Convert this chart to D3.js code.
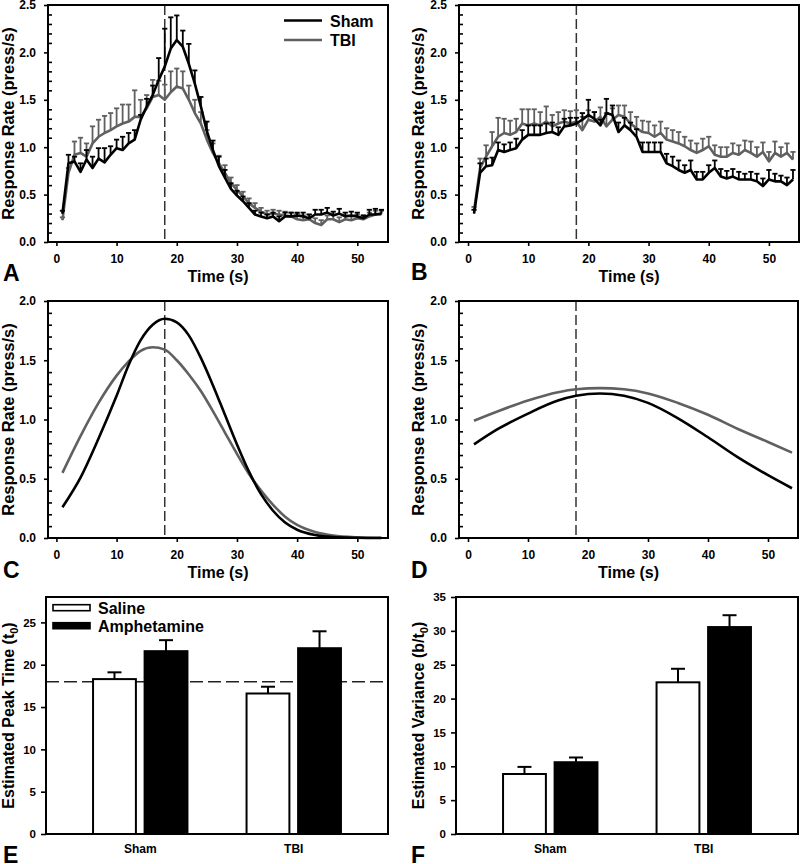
<!DOCTYPE html>
<html><head><meta charset="utf-8">
<script src="https://cdn.jsdelivr.net/npm/d3@7/dist/d3.min.js"></script>
<style>
body{margin:0;background:#fff;}
svg{display:block;}
text{font-family:Arial,"Liberation Sans",sans-serif;font-weight:bold;}
</style></head><body>
<svg id="chart" width="800" height="864"></svg>
<script>
// ---------- DATA ----------
const times = [1,2,3,4,5,6,7,8,9,10,11,12,13,14,15,16,17,18,19,20,21,22,23,24,25,26,27,28,29,30,31,32,33,34,35,36,37,38,39,40,41,42,43,44,45,46,47,48,49,50,51,52,53,54];
const seriesNames = ["Sham","TBI"];

// Panel A (saline)
const shamA = [0.30,0.83,0.85,0.74,0.87,0.78,0.88,0.84,0.92,0.99,0.97,1.04,1.08,1.29,1.43,1.55,1.71,1.85,2.04,2.13,2.06,1.88,1.67,1.43,1.17,0.97,0.80,0.68,0.56,0.49,0.43,0.36,0.29,0.27,0.25,0.27,0.22,0.27,0.27,0.28,0.27,0.25,0.29,0.29,0.31,0.28,0.30,0.27,0.28,0.27,0.25,0.29,0.29,0.30];
const shamAErr = [0.03,0.09,0.05,0.09,0.10,0.12,0.11,0.15,0.09,0.09,0.14,0.11,0.10,0.05,0.08,0.10,0.23,0.40,0.33,0.26,0.17,0.21,0.14,0.10,0.10,0.10,0.10,0.08,0.06,0.05,0.05,0.05,0.04,0.04,0.04,0.04,0.05,0.04,0.04,0.03,0.04,0.04,0.05,0.05,0.05,0.04,0.05,0.04,0.04,0.04,0.03,0.05,0.06,0.04];
const tbiA = [0.23,0.73,0.92,0.94,0.90,1.04,1.11,1.15,1.18,1.22,1.25,1.27,1.32,1.32,1.41,1.53,1.55,1.50,1.58,1.64,1.62,1.50,1.36,1.25,1.08,0.94,0.83,0.73,0.62,0.55,0.48,0.41,0.36,0.32,0.29,0.30,0.29,0.28,0.27,0.24,0.23,0.24,0.20,0.18,0.24,0.24,0.21,0.24,0.23,0.25,0.24,0.27,0.29,0.29];
const tbiAErr = [0.03,0.05,0.14,0.16,0.14,0.18,0.18,0.18,0.18,0.19,0.20,0.18,0.28,0.18,0.14,0.18,0.15,0.16,0.22,0.19,0.18,0.15,0.14,0.12,0.10,0.10,0.08,0.08,0.06,0.05,0.05,0.05,0.05,0.04,0.04,0.04,0.04,0.04,0.04,0.06,0.05,0.05,0.05,0.05,0.04,0.05,0.05,0.04,0.04,0.04,0.04,0.04,0.04,0.04];

// Panel B (amphetamine)
const shamB = [0.30,0.73,0.80,0.81,0.97,0.95,0.97,0.99,1.08,1.13,1.13,1.13,1.15,1.16,1.13,1.22,1.23,1.25,1.29,1.34,1.30,1.23,1.36,1.34,1.16,1.23,1.18,1.11,0.95,0.95,0.95,0.95,0.83,0.80,0.76,0.73,0.76,0.66,0.66,0.73,0.78,0.69,0.67,0.69,0.66,0.66,0.66,0.64,0.59,0.66,0.64,0.64,0.60,0.66];
const shamBErr = [0.04,0.10,0.08,0.08,0.08,0.08,0.08,0.10,0.10,0.10,0.10,0.10,0.10,0.10,0.08,0.08,0.08,0.06,0.07,0.16,0.07,0.06,0.15,0.10,0.10,0.08,0.08,0.08,0.10,0.10,0.10,0.10,0.10,0.10,0.10,0.08,0.10,0.08,0.08,0.08,0.08,0.08,0.08,0.08,0.08,0.06,0.08,0.08,0.08,0.10,0.08,0.06,0.08,0.10];
const tbiB = [0.33,0.78,0.90,1.01,1.11,1.15,1.13,1.16,1.25,1.23,1.25,1.23,1.27,1.22,1.25,1.27,1.25,1.27,1.18,1.29,1.27,1.32,1.22,1.29,1.34,1.32,1.25,1.20,1.16,1.15,1.11,1.15,1.08,1.06,1.04,1.01,0.97,0.94,0.97,1.01,0.92,0.90,0.90,0.94,0.92,0.97,0.94,0.90,0.95,0.85,0.94,0.90,0.94,0.87];
const tbiBErr = [0.04,0.10,0.12,0.15,0.20,0.15,0.15,0.14,0.15,0.17,0.15,0.14,0.16,0.12,0.12,0.12,0.13,0.12,0.14,0.10,0.10,0.10,0.14,0.12,0.10,0.12,0.12,0.12,0.12,0.12,0.12,0.12,0.12,0.12,0.12,0.10,0.10,0.10,0.12,0.10,0.10,0.10,0.10,0.10,0.10,0.10,0.12,0.10,0.10,0.10,0.12,0.10,0.10,0.08];

// Panel C (fitted curves, saline)
const fitTimesC = [1,4,7,10,12,14,16,18,20,22,24,26,28,30,32,34,36,38,40,43,46,50,54];
const shamC = [0.26,0.51,0.84,1.20,1.46,1.67,1.80,1.85,1.82,1.71,1.52,1.29,1.04,0.79,0.56,0.37,0.23,0.13,0.07,0.025,0.008,0.002,0.0];
const tbiC  = [0.55,0.86,1.14,1.37,1.49,1.58,1.61,1.59,1.50,1.38,1.24,1.07,0.89,0.71,0.54,0.40,0.28,0.18,0.11,0.05,0.02,0.006,0.002];

// Panel D (fitted curves, amphetamine)
const fitTimesD = [1,5,10,15,18,22,26,30,35,40,45,50,54];
const shamD = [0.79,0.92,1.05,1.16,1.20,1.22,1.20,1.14,1.01,0.85,0.68,0.53,0.42];
const tbiD  = [0.99,1.07,1.16,1.23,1.255,1.265,1.255,1.22,1.14,1.04,0.92,0.81,0.72];

// Panels E/F (bars)
const groups = ["Sham","TBI"];
const treatments = ["Saline","Amphetamine"];
const peakSaline = [18.3,16.6];
const peakSalineErr = [0.8,0.8];
const peakAmph = [21.6,21.95];
const peakAmphErr = [1.3,2.0];
const varSaline = [8.86,22.4];
const varSalineErr = [1.05,2.0];
const varAmph = [10.6,30.56];
const varAmphErr = [0.7,1.75];

const rateTicks25 = [0,0.5,1.0,1.5,2.0,2.5];
const rateTicks20 = [0,0.5,1.0,1.5,2.0];
const timeTicks = [0,10,20,30,40,50];
const peakTicks = [0,5,10,15,20,25];
const varTicks = [0,5,10,15,20,25,30,35];
const criterion = 18;

// ---------- DRAW ----------
const svg = d3.select("#chart");
const GRAY = "#606060";
const colors = {Sham:"#000", TBI:GRAY};

function styleAxis(sel, fs){
  sel.select(".domain").remove();
  sel.selectAll(".tick line").attr("stroke","#000").attr("stroke-width",1.6);
  sel.selectAll(".tick text").attr("fill","#000").attr("font-size",fs)
     .attr("font-family","Arial, 'Liberation Sans', sans-serif").attr("font-weight","bold");
}

function linePanel(o){
  const x = d3.scaleLinear().domain(o.xDom).range([o.x0,o.x1]);
  const y = d3.scaleLinear().domain(o.yDom).range([o.y1,o.y0]);
  const g = svg.append("g");
  // criterion line
  g.append("line").attr("x1",x(criterion)).attr("x2",x(criterion))
    .attr("y1",o.y0).attr("y2",o.y1).attr("stroke","#333").attr("stroke-width",1.5)
    .attr("stroke-dasharray","10,4");
  // series (TBI first, Sham on top)
  o.series.slice().reverse().forEach(s=>{
    const pts = s.t.map((t,i)=>({t, v:s.v[i], e:s.e?s.e[i]:0}));
    const c = colors[s.name];
    if(s.e){
      const eb = g.append("g").attr("stroke",c).attr("stroke-width",1.8);
      eb.selectAll("line.v").data(pts).join("line").attr("class","v")
        .attr("x1",d=>x(d.t)).attr("x2",d=>x(d.t))
        .attr("y1",d=>y(d.v)).attr("y2",d=>y(d.v+d.e));
      eb.selectAll("line.c").data(pts).join("line").attr("class","c")
        .attr("x1",d=>x(d.t)-2.6).attr("x2",d=>x(d.t)+2.6)
        .attr("y1",d=>y(d.v+d.e)).attr("y2",d=>y(d.v+d.e));
    }
    g.append("path").datum(pts)
      .attr("d", d3.line().x(d=>x(d.t)).y(d=>y(d.v)).curve(s.smooth?d3.curveMonotoneX:d3.curveLinear))
      .attr("fill","none").attr("stroke",c).attr("stroke-width",2.6).attr("stroke-linejoin","round");
  });
  // axes
  g.append("g").attr("transform",`translate(0,${o.y1})`)
    .call(d3.axisBottom(x).tickValues(timeTicks).tickSize(4).tickPadding(8).tickSizeOuter(0))
    .call(s=>styleAxis(s,"12px"));
  g.append("g").attr("transform",`translate(${o.x0},0)`)
    .call(d3.axisLeft(y).tickValues(o.yTicks).tickSize(4).tickPadding(8).tickSizeOuter(0).tickFormat(d3.format(".1f")))
    .call(s=>styleAxis(s,"12px"));
  const minor = d3.range(0, o.yDom[1]+0.001, 0.1).filter(v=>Math.abs(v/0.5-Math.round(v/0.5))>0.01);
  g.append("g").attr("transform",`translate(${o.x0},0)`)
    .call(d3.axisRight(y).tickValues(minor).tickSize(4).tickFormat("").tickSizeOuter(0))
    .call(s=>styleAxis(s,"12px"));
  // frame
  g.append("rect").attr("x",o.x0).attr("y",o.y0).attr("width",o.x1-o.x0).attr("height",o.y1-o.y0)
    .attr("fill","none").attr("stroke","#000").attr("stroke-width",2);
  // titles
  g.append("text").attr("x",(o.x0+o.x1)/2).attr("y",o.y1+40).attr("text-anchor","middle")
    .attr("font-size","16px").text("Time (s)");
  g.append("text").attr("transform",`translate(${o.ylx},${(o.y0+o.y1)/2}) rotate(-90)`)
    .attr("text-anchor","middle").attr("font-size","16.5px").text("Response Rate (press/s)");
  g.append("text").attr("x",o.lx).attr("y",o.ly).attr("font-size","23px").text(o.letter);
  if(o.legend){
    const L = g.append("g");
    seriesNames.forEach((n,i)=>{
      const yy = 20.5 + i*19.5;
      L.append("line").attr("x1",284).attr("x2",322).attr("y1",yy).attr("y2",yy)
        .attr("stroke",colors[n]).attr("stroke-width",2.6);
      L.append("text").attr("x",330).attr("y",yy+6).attr("font-size","16px").text(n);
    });
  }
}

linePanel({x0:48,x1:388,y0:5,y1:242,xDom:[-1.4,55.1],yDom:[0,2.5],yTicks:rateTicks25,
  series:[{name:"Sham",t:times,v:shamA,e:shamAErr},{name:"TBI",t:times,v:tbiA,e:tbiAErr}],
  ylx:14,letter:"A",lx:3,ly:281,legend:true});
linePanel({x0:459,x1:799,y0:5,y1:242,xDom:[-1.5,55.0],yDom:[0,2.5],yTicks:rateTicks25,
  series:[{name:"Sham",t:times,v:shamB,e:shamBErr},{name:"TBI",t:times,v:tbiB,e:tbiBErr}],
  ylx:424,letter:"B",lx:411,ly:280});
linePanel({x0:48,x1:388,y0:301,y1:538,xDom:[-1.4,55.1],yDom:[0,2.0],yTicks:rateTicks20,
  series:[{name:"Sham",t:fitTimesC,v:shamC,smooth:true},{name:"TBI",t:fitTimesC,v:tbiC,smooth:true}],
  ylx:14,letter:"C",lx:3,ly:578});
linePanel({x0:459,x1:798,y0:301,y1:538,xDom:[-1.5,55.0],yDom:[0,2.0],yTicks:rateTicks20,
  series:[{name:"Sham",t:fitTimesD,v:shamD,smooth:true},{name:"TBI",t:fitTimesD,v:tbiD,smooth:true}],
  ylx:424,letter:"D",lx:411,ly:578});

function barPanel(o){
  const x = d3.scaleBand().domain(groups).range([o.x0,o.x1]).paddingInner(0.372).paddingOuter(0.3);
  const xi = d3.scaleBand().domain(treatments).range([0,x.bandwidth()]).paddingInner(0.13);
  const y = d3.scaleLinear().domain([0,o.yMax]).range([o.y1,o.y0]);
  const g = svg.append("g");
  const data = [];
  groups.forEach((grp,gi)=>{
    data.push({grp,tr:"Saline",v:o.sal[gi],e:o.salE[gi]});
    data.push({grp,tr:"Amphetamine",v:o.amp[gi],e:o.ampE[gi]});
  });
  if(o.refLine){
    g.append("line").attr("x1",o.x0).attr("x2",o.x1).attr("y1",y(criterion)).attr("y2",y(criterion))
      .attr("stroke","#222").attr("stroke-width",1.5).attr("stroke-dasharray","13,5");
  }
  const cx = d=>x(d.grp)+xi(d.tr)+xi.bandwidth()/2;
  g.selectAll("line.eb").data(data).join("line").attr("class","eb")
    .attr("x1",cx).attr("x2",cx).attr("y1",d=>y(d.v)).attr("y2",d=>y(d.v+d.e))
    .attr("stroke","#000").attr("stroke-width",2);
  g.selectAll("line.cap").data(data).join("line").attr("class","cap")
    .attr("x1",d=>cx(d)-7).attr("x2",d=>cx(d)+7).attr("y1",d=>y(d.v+d.e)).attr("y2",d=>y(d.v+d.e))
    .attr("stroke","#000").attr("stroke-width",2);
  g.selectAll("rect.bar").data(data).join("rect").attr("class","bar")
    .attr("x",d=>x(d.grp)+xi(d.tr)+1).attr("width",xi.bandwidth()-2)
    .attr("y",d=>y(d.v)).attr("height",d=>y(0)-y(d.v))
    .attr("fill",d=>d.tr==="Saline"?"#fff":"#000").attr("stroke","#000").attr("stroke-width",2);
  g.append("g").attr("transform",`translate(${o.x0},0)`)
    .call(d3.axisLeft(y).tickValues(o.ticks).tickSize(5).tickPadding(5).tickSizeOuter(0))
    .call(s=>styleAxis(s,"11.5px"));
  g.append("g").attr("transform",`translate(0,${o.y1})`)
    .call(d3.axisBottom(x).tickSize(0).tickPadding(10))
    .call(s=>styleAxis(s,"12px"));
  g.append("rect").attr("x",o.x0).attr("y",o.y0).attr("width",o.x1-o.x0).attr("height",o.y1-o.y0)
    .attr("fill","none").attr("stroke","#000").attr("stroke-width",2);
  const t = g.append("text").attr("transform",`translate(${o.ylx},${(o.y0+o.y1)/2}) rotate(-90)`)
    .attr("text-anchor","middle").attr("font-size","16px");
  t.append("tspan").text(o.ylab);
  t.append("tspan").attr("font-size","11px").attr("dy","4").text("0");
  t.append("tspan").attr("dy","-4").text(")");
  g.append("text").attr("x",o.lx).attr("y",o.ly).attr("font-size","23px").text(o.letter);
  if(o.legend){
    treatments.forEach((tr,i)=>{
      const yy = 604.7 + i*18;
      g.append("rect").attr("x",53).attr("y",yy).attr("width",37).attr("height",6)
        .attr("fill",tr==="Saline"?"#fff":"#000").attr("stroke","#000").attr("stroke-width",1.6);
      g.append("text").attr("x",98).attr("y",yy+9).attr("font-size","16px").text(tr);
    });
  }
}

barPanel({x0:46,x1:388,y0:597,y1:834,yMax:28,ticks:peakTicks,sal:peakSaline,salE:peakSalineErr,
  amp:peakAmph,ampE:peakAmphErr,refLine:true,ylab:"Estimated Peak Time (t",ylx:14,letter:"E",lx:3,ly:863,legend:true});
barPanel({x0:456,x1:798,y0:597,y1:834,yMax:35,ticks:varTicks,sal:varSaline,salE:varSalineErr,
  amp:varAmph,ampE:varAmphErr,refLine:false,ylab:"Estimated Variance (b/t",ylx:424,letter:"F",lx:411,ly:863});
</script>
</body></html>
